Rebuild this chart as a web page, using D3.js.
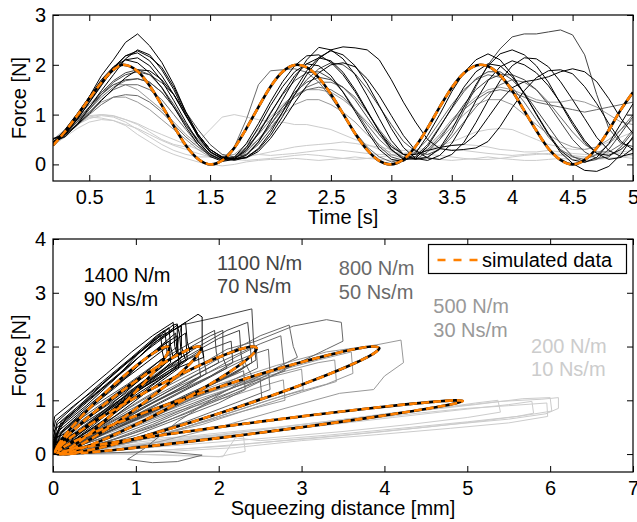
<!DOCTYPE html>
<html><head><meta charset="utf-8">
<script src="https://cdn.jsdelivr.net/npm/d3@7/dist/d3.min.js"></script>
<style>body{margin:0;background:#fff}svg{display:block}text{font-family:"Liberation Sans",Arial,Helvetica,sans-serif}</style>
</head><body><svg id="c" width="637" height="522"></svg>
<script>
// ---------- TOP: force vs time ----------
const timeS = [0.2,0.3,0.4,0.5,0.6,0.7,0.8,0.9,1.0,
 1.1,1.2,1.3,1.4,1.5,1.6,1.7,1.8,1.9,2.0,
 2.1,2.2,2.3,2.4,2.5,2.6,2.7,2.8,2.9,3.0,
 3.1,3.2,3.3,3.4,3.5,3.6,3.7,3.8,3.9,4.0,
 4.1,4.2,4.3,4.4,4.5,4.6,4.7,4.8,4.9,5.0];

const k1400 = [
 [.45,.66,.96,1.3,1.66,1.95,2.18,2.24,2.08, 1.78,1.4,.97,.57,.26,.11,.12,.28,.62,1.02, 1.42,1.78,2.02,2.14,2.08,1.85,1.5,1.08,.66,.3, .1,.12,.36,.74,1.14,1.55,1.86,2.02,1.98,1.76, 1.42,1.02,.62,.28,.09,.04,.14,.42,.82,1.22],
 [.5,.62,.92,1.36,1.78,2.1,2.45,2.62,2.38, 2.05,1.6,1.05,.6,.3,.15,.1,.18,.45,.86, 1.3,1.72,2.1,2.35,2.3,2.12,1.8,1.38,.92,.48, .2,.1,.14,.32,.7,1.15,1.6,1.98,2.22,2.3, 2.2,1.98,1.65,1.22,.8,.44,.22,.18,.3,.52],
 [.4,.62,.9,1.24,1.58,1.92,2.18,2.28,2.16, 1.95,1.55,1.05,.6,.3,.14,.08,.14,.32,.64, 1.05,1.5,1.88,2.15,2.28,2.2,1.98,1.62,1.18,.72, .34,.12,.08,.18,.42,.82,1.28,1.68,1.96,2.08, 2.0,1.84,1.58,1.24,.85,.48,.22,.1,.14,.32],
 [.52,.6,.8,1.02,1.28,1.52,1.74,1.9,1.88, 1.7,1.4,.98,.6,.3,.15,.12,.13,.26,.52, .86,1.24,1.58,1.84,2.0,2.04,1.96,1.72,1.38,.98, .58,.28,.13,.1,.2,.44,.84,1.28,1.68,1.98, 2.14,2.12,1.96,1.66,1.3,.92,.54,.28,.16,.22],
 [.46,.56,.8,1.14,1.48,1.8,2.12,2.3,2.2, 1.9,1.5,1.0,.55,.25,.12,.1,.14,.3,.58, .96,1.4,1.8,2.12,2.3,2.36,2.34,2.3,2.1,1.7, 1.25,.85,.5,.32,.28,.3,.33,.46,.76,1.14, 1.48,1.74,1.88,1.9,1.82,1.56,1.22,.82,.46,.3],
 [.42,.7,1.02,1.36,1.7,1.96,2.1,2.04,1.84, 1.54,1.15,.75,.4,.16,.06,.1,.34,.74,1.18, 1.56,1.86,2.02,1.98,1.78,1.45,1.06,.66,.3,.1, .06,.22,.58,1.0,1.46,1.84,2.1,2.22,2.1,1.8, 1.42,1.0,.6,.24,.02,-.12,-.14,-.04,.2,.56],
 [.38,.6,.9,1.25,1.6,1.9,2.1,2.14,1.98, 1.68,1.28,.85,.46,.2,.08,.14,.42,.82,1.26, 1.66,1.98,2.18,2.2,2.05,1.8,1.46,1.06,.66,.36, .2,.2,.28,.34,.38,.4,.6,.94,1.28,1.54, 1.66,1.7,1.76,1.86,1.92,1.86,1.66,1.32,.92,.62]
];
const k1100 = [
 [.4,.6,.86,1.15,1.44,1.68,1.84,1.9,1.8, 1.55,1.2,.8,.46,.2,.08,.1,.3,.64,1.04, 1.4,1.68,1.84,1.86,1.72,1.46,1.1,.72,.36,.15, .08,.16,.4,.76,1.12,1.46,1.72,1.86,1.86,1.7, 1.44,1.1,.76,.42,.16,.05,.1,.3,.62,.96],
 [.45,.55,.8,1.1,1.4,1.65,1.8,1.86,1.8, 1.64,1.4,1.05,.7,.4,.2,.15,.2,.4,.7, 1.05,1.4,1.7,1.92,2.04,2.0,1.82,1.52,1.16,.8, .46,.26,.2,.3,.62,1.08,1.56,2.0,2.32,2.56, 2.62,2.62,2.66,2.7,2.6,2.2,1.4,.72,.42,.36],
 [.5,.65,.9,1.15,1.4,1.6,1.7,1.72,1.65, 1.45,1.15,.8,.5,.25,.12,.1,.2,.45,.8, 1.15,1.45,1.65,1.75,1.7,1.55,1.3,.95,.6,.3, .12,.1,.25,.5,.85,1.2,1.5,1.7,1.8,1.8, 1.7,1.5,1.2,.85,.5,.25,.12,.15,.35,.65]
];
const k800 = [
 [.4,.6,.85,1.1,1.35,1.55,1.68,1.72,1.65, 1.45,1.15,.8,.45,.2,.1,.35,.9,1.6,1.88, 1.9,1.92,1.85,1.65,1.35,1.0,.65,.35,.15,.05, .1,.25,.5,.85,1.2,1.5,1.7,1.8,1.75,1.55, 1.25,.9,.55,.3,.15,.1,.2,.4,.7,1.0],
 [.45,.6,.8,1.05,1.3,1.5,1.6,1.6,1.5, 1.3,1.0,.7,.4,.2,.1,.12,.25,.5,.8, 1.1,1.35,1.55,1.65,1.65,1.55,1.35,1.05,.7,.4, .2,.12,.15,.3,.55,.85,1.15,1.4,1.6,1.7, 1.65,1.5,1.25,.95,.65,.4,.25,.25,.4,.7],
 [.42,.58,.78,1.0,1.2,1.35,1.4,1.38,1.25, 1.05,.8,.55,.35,.18,.1,.15,.35,.6,.9, 1.15,1.35,1.5,1.55,1.5,1.35,1.1,.8,.5,.28, .15,.15,.3,.55,.85,1.1,1.3,1.45,1.5,1.45, 1.35,1.25,1.2,1.15,1.1,1.05,1.1,1.15,1.2,1.25]
];
const k500 = [
 [.45,.62,.85,1.05,1.25,1.35,1.35,1.25,1.1, .9,.7,.5,.3,.15,.1,.15,.3,.5,.75, 1.0,1.2,1.3,1.3,1.2,1.05,.85,.6,.4,.2, .12,.15,.3,.5,.75,1.0,1.2,1.3,1.3,1.2, 1.0,.8,.6,.45,.35,.3,.35,.5,.7,.9],
 [.5,.7,.95,1.2,1.45,1.6,1.6,1.5,1.3, 1.1,.85,.6,.4,.22,.15,.2,.4,.7,.95, 1.2,1.4,1.5,1.5,1.45,1.3,1.1,.85,.6,.35, .2,.2,.35,.6,.9,1.15,1.35,1.5,1.55,1.5, 1.4,1.3,1.25,1.25,1.3,1.25,1.15,1.0,.85,.8]
];
const k200 = [
 [.4,.6,.8,.92,.98,.95,.85,.7,.55, .4,.28,.2,.15,.15,.18,.2,.22,.2,.18, .2,.22,.25,.28,.3,.28,.25,.22,.2,.2, .22,.25,.28,.3,.3,.28,.25,.22,.2,.18, .2,.22,.2,.18,.15,.15,.18,.2,.22,.2],
 [.45,.7,.88,.98,1.0,.97,.9,.82,.7, .6,.5,.4,.3,.22,.15,.1,.08,.1,.12, .15,.18,.2,.18,.15,.12,.1,.12,.15,.18, .2,.22,.2,.18,.15,.12,.1,.1,.12,.15, .18,.2,.22,.2,.18,.15,.12,.12,.15,.18],
 [.38,.55,.72,.85,.9,.88,.78,.6,.45, .3,.2,.12,.05,.0,-.03,.0,.05,.08,.1, .1,.12,.1,.08,.1,.12,.15,.12,.1,.08, .1,.12,.12,.1,.08,.1,.12,.15,.12,.1, .08,.08,.1,.12,.1,.08,.1,.12,.15,.12],
 [.42,.65,.85,.95,.93,.88,.8,.72,.6, .48,.38,.3,.22,.15,.12,.12,.15,.2,.25, .3,.35,.38,.4,.42,.45,.42,.38,.35,.3, .28,.3,.32,.35,.38,.4,.38,.35,.3,.28, .25,.25,.28,.25,.22,.2,.2,.22,.25,.28],
 [.4,.6,.8,.95,1.0,.98,.9,.8,.65, .5,.4,.35,.45,.7,.95,1.0,.95,.9,.85, .85,.8,.8,.75,.7,.6,.5,.4,.3,.25, .22,.25,.3,.38,.45,.55,.65,.7,.72,.7, .6,.5,.4,.35,.3,.3,.35,.45,.55,.65]
];
const simT = [0.2,0.3,0.4,0.5,0.6,0.7,0.78,0.9,1.0,1.1,1.2,1.3,1.4,1.51,1.6,1.7,1.8,1.9,2.0,2.1,2.22,2.3,2.4,2.5,2.6,2.7,2.8,2.9,2.99,3.1,3.2,3.3,3.4,3.5,3.6,3.74,3.8,3.9,4.0,4.1,4.2,4.3,4.4,4.5,4.6,4.7,4.8,4.9,5.0];
const simF = [0.38,0.66,0.98,1.32,1.64,1.90,2.0,1.87,1.58,1.19,0.77,0.38,0.11,0,0.08,0.33,0.72,1.15,1.56,1.86,2.0,1.95,1.74,1.41,1.02,0.62,0.29,0.07,0,0.10,0.36,0.73,1.15,1.54,1.83,2.0,1.97,1.79,1.48,1.08,0.68,0.32,0.09,0,0.09,0.33,0.69,1.10,1.45];

// ---------- BOTTOM: force vs squeezing distance ----------
const loops1400 = [
 [[0,.05],[.02,.45],[.3,.85],[.6,1.3],[.9,1.7],[1.2,2.1],[1.45,2.4],[1.5,2.42],[1.5,1.9],[1.3,1.6],[1.0,1.25],[.6,.75],[.3,.4],[.05,.1]],
 [[0,.1],[.05,.55],[.35,.95],[.7,1.45],[1.0,1.85],[1.3,2.2],[1.55,2.38],[1.55,2.0],[1.6,1.75],[1.3,1.45],[.9,1.05],[.5,.55],[.2,.2],[0,.05]],
 [[0,0],[.1,.4],[.4,.8],[.8,1.3],[1.1,1.75],[1.3,2.0],[1.4,2.1],[1.42,1.7],[1.2,1.4],[.9,1.05],[.6,.7],[.3,.35],[.1,.1],[0,0]],
 [[0,.2],[.1,.6],[.5,1.1],[.9,1.6],[1.2,2.05],[1.5,2.35],[1.75,2.6],[1.8,2.55],[1.8,2.0],[1.82,1.8],[1.5,1.6],[1.1,1.25],[.6,.7],[.2,.25],[0,.1]],
 [[0,.3],[.05,.6],[.3,.95],[.6,1.35],[.95,1.8],[1.25,2.2],[1.4,2.35],[1.42,2.0],[1.45,1.8],[1.25,1.55],[.9,1.1],[.55,.7],[.25,.35],[0,.15]],
 [[0,.05],[.05,.35],[.3,.7],[.65,1.15],[1.0,1.55],[1.3,1.9],[1.55,2.2],[1.6,2.25],[1.62,1.75],[1.4,1.5],[1.0,1.1],[.6,.62],[.25,.25],[0,0]],
 [[0,.15],[.08,.5],[.4,.9],[.75,1.4],[1.05,1.9],[1.3,2.25],[1.35,2.3],[1.38,1.85],[1.1,1.5],[.8,1.15],[.45,.7],[.15,.3],[0,.1]],
 [[0,.2],[.15,.65],[.45,1.05],[.8,1.5],[1.15,1.95],[1.45,2.3],[1.6,2.45],[1.62,2.1],[1.65,1.9],[1.45,1.7],[1.1,1.3],[.7,.85],[.3,.4],[0,.15]],
 [[0,.05],[.05,.3],[.25,.6],[.55,1.0],[.85,1.4],[1.15,1.8],[1.35,2.05],[1.5,2.2],[1.52,1.6],[1.3,1.35],[1.0,1.0],[.7,.65],[.4,.35],[.1,.08],[0,0]],
 [[0,.4],[.03,.62],[.25,.9],[.55,1.25],[.85,1.65],[1.1,1.95],[1.3,2.2],[1.32,1.9],[1.35,1.7],[1.1,1.45],[.8,1.05],[.45,.6],[.15,.25],[0,.2]],
 [[0,.5],[.02,.7],[.3,1.05],[.65,1.5],[.95,1.9],[1.2,2.2],[1.45,2.45],[1.47,2.0],[1.5,1.85],[1.2,1.55],[.85,1.15],[.5,.75],[.2,.4],[0,.3]],
 [[0,.08],[.06,.42],[.35,.8],[.7,1.25],[1.0,1.65],[1.25,1.95],[1.48,2.25],[1.5,1.85],[1.55,1.7],[1.35,1.45],[1.0,1.05],[.65,.65],[.3,.3],[0,.05]],
 [[0,.25],[.1,.55],[.4,.95],[.7,1.35],[1.0,1.75],[1.25,2.1],[1.5,2.4],[1.53,2.2],[1.55,1.8],[1.35,1.55],[1.05,1.2],[.7,.8],[.35,.45],[0,.2]]
];
const loops1100 = [
 [[0,.05],[.1,.35],[.5,.8],[1.0,1.35],[1.5,1.85],[1.9,2.2],[2.05,2.3],[2.05,1.8],[2.1,1.6],[1.8,1.35],[1.3,.95],[.8,.55],[.4,.25],[0,.05]],
 [[0,.1],[.1,.4],[.6,.95],[1.1,1.5],[1.5,2.0],[1.55,2.4],[2.0,2.55],[2.4,2.7],[2.42,2.1],[2.45,1.75],[2.2,1.5],[1.7,1.15],[1.1,.7],[.5,.3],[0,.05]],
 [[0,0],[.2,.3],[.6,.75],[1.1,1.25],[1.5,1.65],[1.8,1.95],[1.85,1.5],[1.6,1.25],[1.2,.95],[.7,.5],[.3,.2],[0,0]],
 [[0,.2],[.15,.5],[.5,.9],[.9,1.3],[1.3,1.75],[1.7,2.1],[1.95,2.3],[1.97,1.9],[2.0,1.7],[1.7,1.45],[1.2,1.0],[.7,.6],[.3,.25],[0,.1]],
 [[0,.05],[.2,.4],[.7,.9],[1.2,1.4],[1.6,1.8],[2.0,2.15],[2.25,2.3],[2.27,1.85],[2.3,1.6],[2.0,1.35],[1.5,1.0],[.9,.6],[.4,.2],[0,.02]],
 [[0,.1],[.1,.3],[.5,.7],[1.0,1.2],[1.4,1.6],[1.75,1.85],[1.78,1.45],[1.5,1.2],[1.0,.8],[.5,.35],[.1,.05]],
 [[0,.05],[.3,.45],[.8,1.0],[1.3,1.55],[1.7,1.95],[2.1,2.3],[2.35,2.45],[2.38,2.0],[2.4,1.7],[2.1,1.45],[1.6,1.1],[1.0,.65],[.5,.3],[0,.05]],
 [[0,.15],[.2,.45],[.6,.85],[1.0,1.25],[1.4,1.6],[1.8,1.9],[2.15,2.1],[2.17,1.7],[1.9,1.45],[1.4,1.05],[.9,.65],[.4,.3],[0,.1]]
];
const loops800 = [
 [[0,0],[.5,.45],[1.0,.95],[1.6,1.5],[2.1,1.95],[2.45,2.1],[2.9,2.38],[3.3,2.5],[3.48,2.45],[3.5,2.1],[3.3,1.95],[2.9,1.65],[2.3,1.2],[1.6,.75],[.9,.35],[.3,.08],[0,0]],
 [[0,.05],[.4,.35],[.9,.8],[1.5,1.3],[2.0,1.7],[2.5,2.05],[2.75,2.2],[2.78,1.75],[2.8,1.55],[2.4,1.3],[1.8,.95],[1.2,.55],[.6,.2],[0,0]],
 [[0,.02],[.5,.4],[1.0,.85],[1.5,1.25],[2.0,1.6],[2.4,1.85],[2.6,1.95],[2.62,1.5],[2.3,1.25],[1.8,.9],[1.2,.5],[.6,.2],[0,0]],
 [[0,.1],[.3,.3],[.8,.75],[1.3,1.2],[1.8,1.6],[2.2,1.95],[2.5,2.2],[2.85,2.4],[2.9,2.0],[2.95,1.8],[2.5,1.45],[1.9,1.05],[1.3,.65],[.7,.3],[.2,.05],[0,.02]],
 [[0,0],[.4,.3],[.9,.7],[1.4,1.1],[1.9,1.45],[2.3,1.75],[2.4,1.45],[2.0,1.1],[1.5,.6],[1.1,.1],[.9,-.1],[1.2,-.16],[1.5,-.14],[1.8,-.02],[1.3,.05],[.6,.02],[0,0]],
 [[0,0],[.5,.3],[1.0,.65],[1.5,1.0],[2.0,1.35],[2.3,1.55],[2.32,1.2],[2.0,.95],[1.5,.65],[1.0,.35],[.5,.12],[0,0]],
 [[0,.02],[.6,.42],[1.2,.95],[1.8,1.45],[2.2,1.8],[2.45,2.0],[2.47,1.6],[2.2,1.4],[1.7,1.05],[1.1,.6],[.5,.2],[0,0]],
 [[0,0],[.6,.3],[1.2,.7],[1.8,1.1],[2.3,1.4],[2.6,1.55],[2.62,1.2],[2.2,.95],[1.6,.6],[1.0,.3],[.4,.08],[0,0]],
 [[0,.02],[.5,.25],[1.1,.6],[1.7,.95],[2.2,1.25],[2.5,1.4],[2.52,1.05],[2.1,.82],[1.5,.5],[.9,.22],[.3,.04],[0,0]]
];
const loops500 = [
 [[0,0],[.6,.4],[1.3,.9],[2.0,1.3],[2.7,1.65],[3.3,1.9],[3.9,2.03],[4.2,2.12],[4.23,1.7],[4.0,1.45],[3.87,1.2],[3.46,1.13],[2.8,.85],[2.0,.5],[1.2,.2],[.5,.03],[0,0]],
 [[0,.02],[.7,.45],[1.4,.9],[2.1,1.25],[2.7,1.5],[3.2,1.7],[3.4,1.75],[3.42,1.35],[3.0,1.15],[2.5,.9],[1.8,.55],[1.0,.25],[.4,.05],[0,0]],
 [[0,.05],[.6,.35],[1.2,.7],[1.8,1.05],[2.4,1.35],[2.8,1.5],[3.0,1.58],[3.02,1.2],[2.6,1.0],[2.0,.7],[1.3,.35],[.6,.1],[0,0]],
 [[0,0],[.8,.4],[1.5,.8],[2.2,1.1],[2.6,1.3],[2.78,1.38],[2.8,1.0],[2.3,.8],[1.6,.5],[.9,.2],[.3,.02],[0,0]],
 [[0,.05],[.5,.3],[1.2,.75],[1.9,1.15],[2.6,1.5],[3.2,1.75],[3.6,1.9],[3.62,1.5],[3.3,1.3],[2.7,1.05],[2.0,.7],[1.3,.35],[.6,.1],[0,0]]
];
const loops200 = [
 [[0,0],[.8,.15],[1.6,.3],[2.5,.45],[3.3,.6],[4.0,.75],[4.8,.88],[5.4,.98],[5.9,1.02],[6.1,1.05],[6.1,.85],[5.95,.75],[5.5,.65],[4.8,.55],[4.0,.42],[3.2,.3],[2.4,.2],[1.6,.1],[.8,.02],[0,0]],
 [[0,0],[1.0,.18],[2.0,.35],[3.0,.55],[3.8,.7],[4.5,.82],[5.1,.95],[5.37,1.0],[5.4,.78],[5.0,.68],[4.3,.55],[3.5,.42],[2.6,.3],[1.8,.2],[1.0,.1],[.3,.02],[0,0]],
 [[0,.02],[.7,.12],[1.5,.25],[2.4,.38],[3.2,.52],[4.1,.68],[4.9,.82],[5.5,.92],[5.78,.98],[5.8,.76],[5.6,.7],[5.0,.6],[4.2,.48],[3.3,.35],[2.5,.25],[2.2,.3],[2.05,-.05],[1.5,-.02],[.8,0],[0,0]],
 [[0,0],[.9,.2],[1.8,.36],[2.7,.5],[3.6,.66],[4.4,.8],[5.1,.92],[5.67,1.03],[6.0,1.05],[6.02,.8],[5.7,.72],[5.2,.62],[4.5,.5],[3.7,.38],[2.9,.27],[2.1,.15],[1.3,.07],[.5,0],[0,0]],
 [[0,.05],[.6,.2],[1.3,.3],[2.0,.35],[2.3,.32],[2.32,.05],[2.0,-.05],[1.5,-.03],[1.0,0],[.4,.02],[0,.02]],
 [[0,0],[1.2,.2],[2.4,.4],[3.5,.6],[4.4,.76],[5.0,.85],[5.5,.9],[5.96,.95],[5.97,.7],[5.5,.58],[4.8,.48],[3.9,.36],[3.0,.25],[2.2,.12],[1.4,.05],[.6,0],[0,0]]
];
// simulated loops: distance [mm] and force [N]
const simF123 = [.034,.134,.293,.5,.741,1.0,1.259,1.5,1.707,1.866,1.966,2.0,1.966,1.866,1.707,1.5,1.259,1.0,.741,.5,.293,.134,.034,0];
const simX1400 = [.025,.049,.117,.227,.370,.536,.714,.892,1.059,1.201,1.311,1.380,1.403,1.380,1.311,1.201,1.059,.892,.714,.536,.370,.227,.117,.049];
const simX1100 = [.031,.061,.149,.288,.470,.682,.909,1.136,1.348,1.530,1.669,1.757,1.787,1.757,1.669,1.530,1.348,1.136,.909,.682,.470,.288,.149,.061];
const simX800 = [.041,.083,.203,.395,.646,.937,1.25,1.563,1.854,2.105,2.297,2.417,2.459,2.417,2.297,2.105,1.854,1.563,1.25,.937,.646,.395,.203,.083];
const simX500 = [.061,.127,.321,.629,1.030,1.498,2.0,2.502,2.970,3.371,3.679,3.873,3.939,3.873,3.679,3.371,2.970,2.502,2.0,1.498,1.030,.629,.321,.127];
const simF500 = [.031,.127,.283,.488,.728,.986,1.245,1.488,1.697,1.859,1.962,2.0,1.969,1.873,1.717,1.512,1.272,1.014,.755,.512,.303,.141,.038,0];
const simX200 = [.054,.137,.382,.770,1.277,1.867,2.5,3.133,3.723,4.230,4.618,4.863,4.946,4.863,4.618,4.230,3.723,3.133,2.5,1.867,1.277,.770,.382,.137];
const simF200 = [.011,.054,.128,.227,.345,.473,.603,.726,.834,.919,.975,.999,.989,.946,.872,.773,.655,.527,.397,.274,.166,.081,.025,.001];

const topXTicks = [0.5,1,1.5,2,2.5,3,3.5,4,4.5,5];
const topYTicks = [0,1,2,3];
const botXTicks = [0,1,2,3,4,5,6,7];
const botYTicks = [0,1,2,3,4];
const annotations = [
 {l1:"1400 N/m", l2:"90 Ns/m", x:0.37, y:3.2, c:"#000"},
 {l1:"1100 N/m", l2:"70 Ns/m", x:1.98, y:3.43, c:"#444"},
 {l1:"800 N/m", l2:"50 Ns/m", x:3.45, y:3.33, c:"#6a6a6a"},
 {l1:"500 N/m", l2:"30 Ns/m", x:4.59, y:2.62, c:"#999"},
 {l1:"200 N/m", l2:"10 Ns/m", x:5.77, y:1.88, c:"#ccc"}
];

// ---------- drawing ----------
const svg = d3.select("#c");
const FONT = '"Liberation Sans", Arial, Helvetica, sans-serif';
const ORANGE = "#ff8000";
const boxT = {l:53, r:633, t:15, b:181};
const boxB = {l:53, r:633, t:239, b:472};
const xT = d3.scaleLinear().domain([0.2,5]).range([boxT.l, boxT.r]);
const yT = d3.scaleLinear().domain([-1/3,3]).range([boxT.b, boxT.t]);
const xB = d3.scaleLinear().domain([0,7]).range([boxB.l, boxB.r]);
const yB = d3.scaleLinear().domain([-1/3,4]).range([boxB.b, boxB.t]);

const defs = svg.append("defs");
[["clipT",boxT],["clipB",boxB]].forEach(([id,b])=>{
  defs.append("clipPath").attr("id",id).append("rect")
    .attr("x",b.l).attr("y",b.t).attr("width",b.r-b.l).attr("height",b.b-b.t);
});

// top traces
const gT = svg.append("g").attr("clip-path","url(#clipT)");
const lineT = d3.line().x((d,i)=>xT(timeS[i])).y(d=>yT(d));
const topGroups = [[k200,"#cccccc"],[k500,"#999999"],[k800,"#6a6a6a"],[k1100,"#444444"],[k1400,"#000000"]];
topGroups.forEach(([tr,col])=>{
  tr.forEach(v=>gT.append("path").attr("d",lineT(v)).attr("fill","none")
     .attr("stroke",col).attr("stroke-width",1).attr("stroke-linejoin","round"));
});
const simLineT = d3.line().curve(d3.curveMonotoneX).x((d,i)=>xT(simT[i])).y(d=>yT(d));
gT.append("path").attr("d",simLineT(simF)).attr("fill","none").attr("stroke","#000").attr("stroke-width",2.6);
gT.append("path").attr("d",simLineT(simF)).attr("fill","none").attr("stroke",ORANGE).attr("stroke-width",2.6).attr("stroke-dasharray","8,4");

// bottom loops
const gB = svg.append("g").attr("clip-path","url(#clipB)");
const lineB = d3.line().x(d=>xB(d[0])).y(d=>yB(d[1]));
const botGroups = [[loops200,"#cccccc"],[loops500,"#999999"],[loops800,"#6a6a6a"],[loops1100,"#444444"],[loops1400,"#000000"]];
botGroups.forEach(([lp,col])=>{
  lp.forEach(v=>gB.append("path").attr("d",lineB(v)).attr("fill","none")
     .attr("stroke",col).attr("stroke-width",1).attr("stroke-linejoin","round"));
});
const simLoops = [[simX1400,simF123],[simX1100,simF123],[simX800,simF123],[simX500,simF500],[simX200,simF200]];
const loopLine = d3.line().curve(d3.curveCatmullRomClosed).x(d=>xB(d[0])).y(d=>yB(d[1]));
simLoops.forEach(([xs,fs])=>{
  const pts = xs.map((x,i)=>[x,fs[i]]);
  gB.append("path").attr("d",loopLine(pts)).attr("fill","none").attr("stroke","#000").attr("stroke-width",2.6);
});
simLoops.forEach(([xs,fs])=>{
  const pts = xs.map((x,i)=>[x,fs[i]]);
  gB.append("path").attr("d",loopLine(pts)).attr("fill","none").attr("stroke",ORANGE).attr("stroke-width",2.6).attr("stroke-dasharray","8,4");
});

// axes
function axes(x,y,b,xt,yt){
  const g = svg.append("g");
  const fmt = d3.format("");
  g.append("g").attr("transform",`translate(0,${b.b})`)
     .call(d3.axisBottom(x).tickValues(xt).tickSizeInner(-6).tickSizeOuter(0).tickPadding(9).tickFormat(fmt));
  g.append("g").attr("transform",`translate(0,${b.t})`)
     .call(d3.axisTop(x).tickValues(xt).tickSizeInner(-6).tickSizeOuter(0).tickFormat(""));
  g.append("g").attr("transform",`translate(${b.l},0)`)
     .call(d3.axisLeft(y).tickValues(yt).tickSizeInner(-6).tickSizeOuter(0).tickPadding(7).tickFormat(fmt));
  g.append("g").attr("transform",`translate(${b.r},0)`)
     .call(d3.axisRight(y).tickValues(yt).tickSizeInner(-6).tickSizeOuter(0).tickFormat(""));
  g.selectAll(".domain").remove();
  g.selectAll(".tick line").attr("stroke","#000").attr("stroke-width",1);
  g.selectAll("g").attr("font-family",FONT).attr("font-size",20);
  g.selectAll(".tick text").attr("fill","#000");
  g.append("rect").attr("x",b.l).attr("y",b.t).attr("width",b.r-b.l).attr("height",b.b-b.t)
     .attr("fill","none").attr("stroke","#000").attr("stroke-width",1.2);
}
axes(xT,yT,boxT,topXTicks,topYTicks);
axes(xB,yB,boxB,botXTicks,botYTicks);

// axis titles
function txt(s,x,y,opt={}){
  const t = svg.append("text").attr("x",x).attr("y",y).text(s)
    .attr("font-family",FONT).attr("font-size",opt.size||20).attr("fill",opt.fill||"#000")
    .attr("text-anchor",opt.anchor||"start");
  if(opt.rot) t.attr("transform",`rotate(-90,${x},${y})`);
  return t;
}
txt("Time [s]",(boxT.l+boxT.r)/2,224,{anchor:"middle"});
txt("Squeezing distance [mm]",(boxB.l+boxB.r)/2,515,{anchor:"middle"});
txt("Force [N]",26,(boxT.t+boxT.b)/2,{anchor:"middle",rot:true});
txt("Force [N]",26,(boxB.t+boxB.b)/2,{anchor:"middle",rot:true});

// annotations
annotations.forEach(a=>{
  txt(a.l1,xB(a.x),yB(a.y),{fill:a.c,size:20});
  txt(a.l2,xB(a.x),yB(a.y)+23.5,{fill:a.c,size:20});
});

// legend
const lg = svg.append("g");
lg.append("rect").attr("x",428.5).attr("y",244.5).attr("width",198).attr("height",29)
  .attr("fill","#fff").attr("stroke","#000").attr("stroke-width",1.2);
lg.append("line").attr("x1",437.5).attr("x2",477.5).attr("y1",260).attr("y2",260)
  .attr("stroke",ORANGE).attr("stroke-width",2.6).attr("stroke-dasharray","8,8");
txt("simulated data",482,267,{size:20});
</script></body></html>
